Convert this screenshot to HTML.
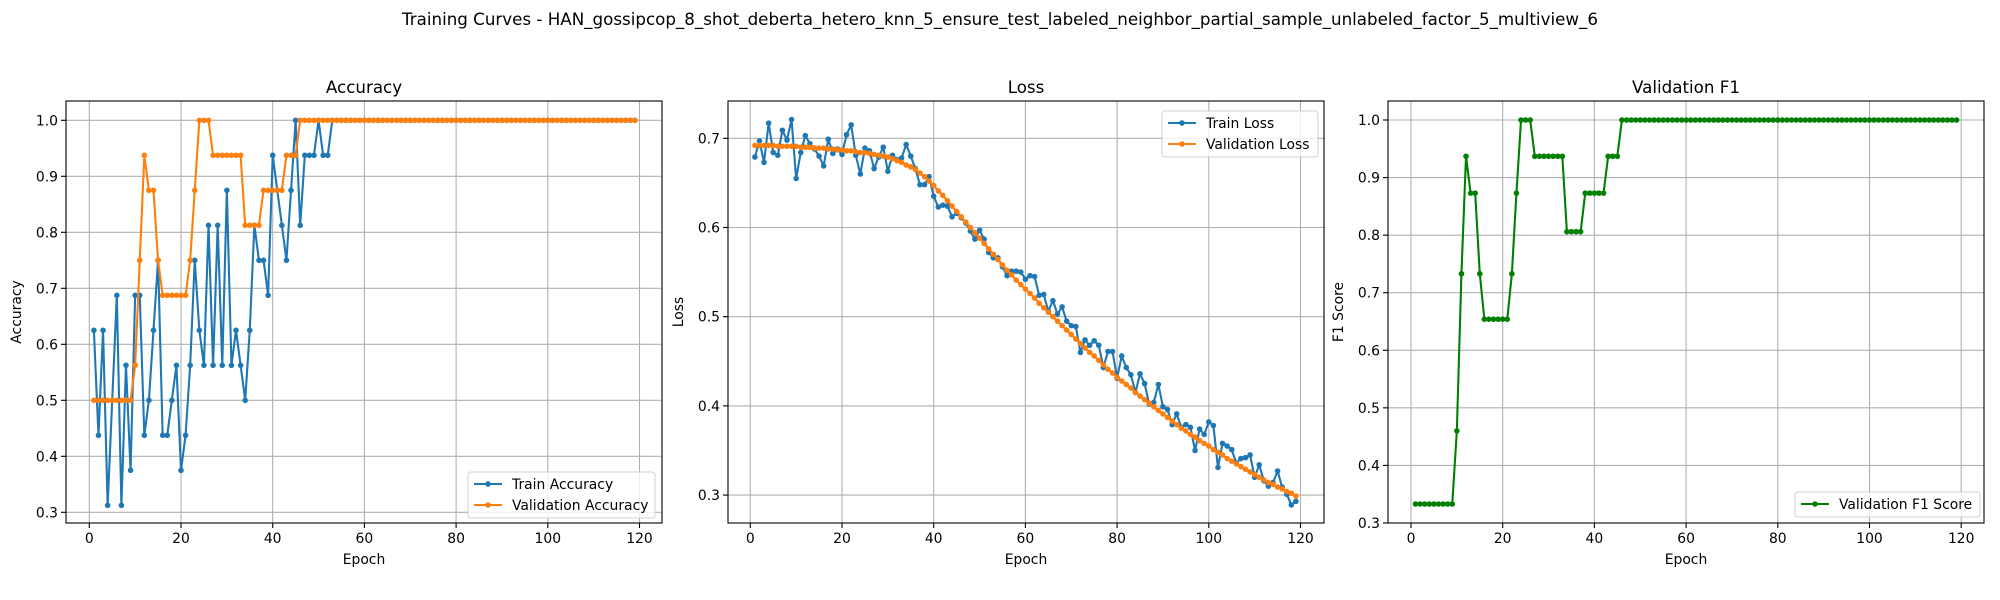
<!DOCTYPE html>
<html><head><meta charset="utf-8"><style>
html,body{margin:0;padding:0;background:#fff;}
svg{display:block;font-family:"DejaVu Sans","Liberation Sans",sans-serif;}
</style></head><body>
<svg id="fig" width="2000" height="600" viewBox="0 0 2000 600" xmlns="http://www.w3.org/2000/svg">
<rect width="2000" height="600" fill="#fff"/>
<text x="1000" y="25" text-anchor="middle" font-size="16.7" fill="#000">Training Curves - HAN_gossipcop_8_shot_deberta_hetero_knn_5_ensure_test_labeled_neighbor_partial_sample_unlabeled_factor_5_multiview_6</text>
</svg>
<script>
const epochs = [];
for (let i = 1; i <= 119; i++) epochs.push(i);
const trainAcc = [0.625,0.4375,0.625,0.3125,0.5,0.6875,0.3125,0.5625,0.375,0.6875,0.6875,0.4375,0.5,0.625,0.75,0.4375,0.4375,0.5,0.5625,0.375,0.4375,0.5625,0.75,0.625,0.5625,0.8125,0.5625,0.8125,0.5625,0.875,0.5625,0.625,0.5625,0.5,0.625,0.8125,0.75,0.75,0.6875,0.9375,0.875,0.8125,0.75,0.875,1.0,0.8125,0.9375,0.9375,0.9375,1.0,0.9375,0.9375,1,1,1,1,1,1,1,1,1,1,1,1,1,1,1,1,1,1,1,1,1,1,1,1,1,1,1,1,1,1,1,1,1,1,1,1,1,1,1,1,1,1,1,1,1,1,1,1,1,1,1,1,1,1,1,1,1,1,1,1,1,1,1,1,1,1,1];
const valAcc = [0.5,0.5,0.5,0.5,0.5,0.5,0.5,0.5,0.5,0.5625,0.75,0.9375,0.875,0.875,0.75,0.6875,0.6875,0.6875,0.6875,0.6875,0.6875,0.75,0.875,1,1,1,0.9375,0.9375,0.9375,0.9375,0.9375,0.9375,0.9375,0.8125,0.8125,0.8125,0.8125,0.875,0.875,0.875,0.875,0.875,0.9375,0.9375,0.9375,1,1,1,1,1,1,1,1,1,1,1,1,1,1,1,1,1,1,1,1,1,1,1,1,1,1,1,1,1,1,1,1,1,1,1,1,1,1,1,1,1,1,1,1,1,1,1,1,1,1,1,1,1,1,1,1,1,1,1,1,1,1,1,1,1,1,1,1,1,1,1,1,1,1];
const trainLoss = [0.679,0.697,0.673,0.717,0.684,0.681,0.709,0.698,0.721,0.655,0.684,0.703,0.694,0.688,0.680,0.669,0.699,0.683,0.688,0.682,0.704,0.715,0.681,0.660,0.689,0.686,0.666,0.679,0.690,0.663,0.681,0.676,0.678,0.693,0.680,0.666,0.648,0.648,0.657,0.635,0.623,0.625,0.624,0.612,0.616,0.611,0.605,0.596,0.587,0.597,0.587,0.572,0.566,0.566,0.556,0.546,0.551,0.551,0.550,0.542,0.546,0.545,0.524,0.525,0.506,0.518,0.503,0.511,0.495,0.490,0.489,0.460,0.474,0.468,0.473,0.468,0.443,0.461,0.461,0.431,0.456,0.443,0.435,0.415,0.436,0.425,0.402,0.404,0.424,0.399,0.396,0.379,0.391,0.376,0.379,0.376,0.350,0.374,0.368,0.382,0.378,0.331,0.358,0.355,0.351,0.336,0.341,0.342,0.345,0.320,0.334,0.316,0.310,0.314,0.327,0.309,0.301,0.289,0.293];
const valLoss = [0.692,0.692,0.692,0.692,0.692,0.691,0.691,0.691,0.691,0.691,0.690,0.690,0.690,0.689,0.689,0.689,0.688,0.688,0.687,0.687,0.686,0.686,0.685,0.684,0.684,0.683,0.682,0.681,0.680,0.679,0.677,0.675,0.673,0.670,0.668,0.665,0.661,0.657,0.652,0.647,0.641,0.636,0.630,0.624,0.618,0.612,0.606,0.600,0.594,0.588,0.582,0.576,0.570,0.564,0.558,0.552,0.547,0.541,0.536,0.531,0.526,0.521,0.515,0.510,0.505,0.500,0.495,0.490,0.485,0.480,0.475,0.470,0.465,0.460,0.456,0.451,0.446,0.441,0.437,0.432,0.428,0.424,0.420,0.415,0.411,0.407,0.403,0.399,0.395,0.391,0.387,0.383,0.379,0.375,0.372,0.368,0.365,0.361,0.358,0.355,0.351,0.348,0.345,0.341,0.338,0.335,0.332,0.329,0.326,0.323,0.320,0.317,0.314,0.312,0.309,0.307,0.304,0.302,0.299];
const valF1 = [0.333,0.333,0.333,0.333,0.333,0.333,0.333,0.333,0.333,0.46,0.733,0.937,0.873,0.873,0.733,0.654,0.654,0.654,0.654,0.654,0.654,0.733,0.873,1,1,1,0.937,0.937,0.937,0.937,0.937,0.937,0.937,0.806,0.806,0.806,0.806,0.873,0.873,0.873,0.873,0.873,0.937,0.937,0.937,1,1,1,1,1,1,1,1,1,1,1,1,1,1,1,1,1,1,1,1,1,1,1,1,1,1,1,1,1,1,1,1,1,1,1,1,1,1,1,1,1,1,1,1,1,1,1,1,1,1,1,1,1,1,1,1,1,1,1,1,1,1,1,1,1,1,1,1,1,1,1,1,1,1];
const xTicks = [0,20,40,60,80,100,120];
const accTicks = [0.3,0.4,0.5,0.6,0.7,0.8,0.9,1.0];
const lossTicks = [0.3,0.4,0.5,0.6,0.7];
const f1Ticks = [0.3,0.4,0.5,0.6,0.7,0.8,0.9,1.0];

const NS = 'http://www.w3.org/2000/svg';
const svg = document.getElementById('fig');
function mk(tag, attrs, parent) {
  const e = document.createElementNS(NS, tag);
  for (const k in attrs) e.setAttribute(k, attrs[k]);
  (parent || svg).appendChild(e);
  return e;
}

function panel(cfg) {
  const g = mk('g', {});
  
  
  const L = cfg.left, R = cfg.left + 596, T = 101, B = 523;
  const x = e => cfg.x0 + e * 4.585;
  const y = v => cfg.yTop + (cfg.vTop - v) * cfg.ppu;
  // grid
  xTicks.forEach(t => {
    const gl = mk('line', {x1: x(t), x2: x(t), y1: T, y2: B, stroke: '#b0b0b0', 'stroke-width': 1.1}, g);
    
    
    mk('line', {x1: x(t), x2: x(t), y1: B, y2: B + 5, stroke: '#000', 'stroke-width': 1.1}, g);
    const tl = mk('text', {x: x(t), y: B + 20, 'text-anchor': 'middle', 'font-size': 13.9, fill: '#000'}, g);
    tl.textContent = t;
    
    
  });
  cfg.yTicks.forEach(t => {
    const gl = mk('line', {x1: L, x2: R, y1: y(t), y2: y(t), stroke: '#b0b0b0', 'stroke-width': 1.1}, g);
    
    
    mk('line', {x1: L - 5, x2: L, y1: y(t), y2: y(t), stroke: '#000', 'stroke-width': 1.1}, g);
    const tl = mk('text', {x: L - 8, y: y(t) + 5, 'text-anchor': 'end', 'font-size': 13.9, fill: '#000'}, g);
    tl.textContent = t.toFixed(1);
    
    
  });
  // series
  cfg.series.forEach(s => {
    const pts = s.data.map((v, i) => x(epochs[i]).toFixed(2) + ',' + y(v).toFixed(2)).join(' ');
    const pl = mk('polyline', {points: pts, fill: 'none', stroke: s.color, 'stroke-width': 2.1, 'stroke-linejoin': 'round'}, g);
    
    
    s.data.forEach((v, i) => {
      const c = mk('circle', {cx: x(epochs[i]), cy: y(v), r: 2.8, fill: s.color}, g);
      
      
    });
  });
  const fr = mk('rect', {x: L, y: T, width: R - L, height: B - T, fill: 'none', stroke: '#000', 'stroke-width': 1.1}, g);
  
  
  const ti = mk('text', {x: (L + R) / 2, y: 93, 'text-anchor': 'middle', 'font-size': 16.7, fill: '#000'}, g);
  ti.textContent = cfg.title;
  
  
  const xl = mk('text', {x: (L + R) / 2, y: 564, 'text-anchor': 'middle', 'font-size': 13.9, fill: '#000'}, g);
  xl.textContent = 'Epoch';
  
  
  const yl = mk('text', {x: 0, y: 0, 'text-anchor': 'middle', 'font-size': 13.9, fill: '#000', transform: `translate(${L - 45},${(T + B) / 2}) rotate(-90)`}, g);
  yl.textContent = cfg.ylabel;
  
  
  // legend
  const lg = mk('g', {}, g);
  
  
  const lb = cfg.legend;
  mk('rect', {x: lb.x, y: lb.y, width: lb.w, height: cfg.series.length * 21 + 4, rx: 3, fill: '#fff', 'fill-opacity': 0.8, stroke: '#d0d0d0', 'stroke-width': 1}, lg);
  cfg.series.forEach((s, i) => {
    const yy = lb.y + 12 + i * 21;
    const le = mk('g', {}, lg);
    
    
    mk('line', {x1: lb.x + 6, x2: lb.x + 34, y1: yy, y2: yy, stroke: s.color, 'stroke-width': 2.1}, le);
    mk('circle', {cx: lb.x + 20, cy: yy, r: 2.8, fill: s.color}, le);
    const t = mk('text', {x: lb.x + 44, y: yy + 5, 'font-size': 13.9, fill: '#000'}, le);
    t.textContent = s.label;
  });
}

panel({name: 'accuracy', title: 'Accuracy', ylabel: 'Accuracy', left: 66, x0: 89.3, yTop: 120.3, vTop: 1.0, ppu: 560, yTicks: accTicks,
  series: [{key: 'train-accuracy', label: 'Train Accuracy', color: '#1f77b4', data: trainAcc},
           {key: 'validation-accuracy', label: 'Validation Accuracy', color: '#ff7f0e', data: valAcc}],
  legend: {x: 468, y: 472, w: 187}});
panel({name: 'loss', title: 'Loss', ylabel: 'Loss', left: 728, x0: 750.3, yTop: 138.3, vTop: 0.7, ppu: 892, yTicks: lossTicks,
  series: [{key: 'train-loss', label: 'Train Loss', color: '#1f77b4', data: trainLoss},
           {key: 'validation-loss', label: 'Validation Loss', color: '#ff7f0e', data: valLoss}],
  legend: {x: 1162, y: 111, w: 156}});
panel({name: 'f1', title: 'Validation F1', ylabel: 'F1 Score', left: 1388, x0: 1411, yTop: 120, vTop: 1.0, ppu: 575.7, yTicks: f1Ticks,
  series: [{key: 'validation-f1', label: 'Validation F1 Score', color: '#008000', data: valF1}],
  legend: {x: 1795, y: 492, w: 185}});
</script>
</body></html>
